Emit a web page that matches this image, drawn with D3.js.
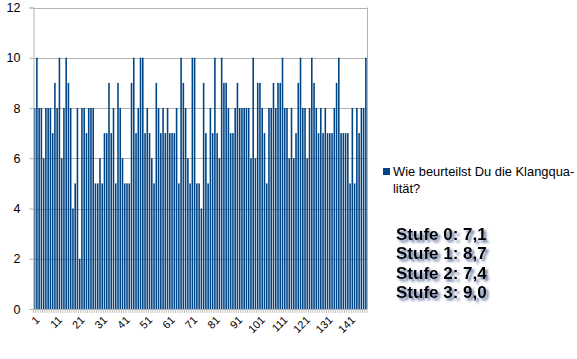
<!DOCTYPE html>
<html>
<head>
<meta charset="utf-8">
<script src="https://cdn.jsdelivr.net/npm/d3@7"></script>
<style>
  html, body { margin: 0; padding: 0; background: #ffffff; }
  svg { display: block; font-family: "Liberation Sans", Arial, sans-serif; }
</style>
</head>
<body>
<svg id="chart" width="577" height="359"></svg>
<script>
// ---- data ----
const values = [
  8, 10, 8, 8, 6, 8, 8, 8, 7, 9,
  8, 10, 6, 8, 10, 9, 8, 4, 5, 8,
  2, 8, 8, 7, 8, 8, 8, 5, 5, 6,
  5, 7, 7, 9, 7, 8, 5, 9, 8, 6,
  5, 5, 5, 9, 10, 7, 8, 10, 10, 7,
  8, 7, 6, 5, 9, 8, 7, 8, 7, 8,
  7, 7, 7, 8, 5, 10, 9, 8, 6, 5,
  10, 10, 5, 5, 4, 9, 7, 5, 8, 7,
  10, 7, 6, 10, 9, 9, 8, 7, 7, 8,
  9, 8, 8, 8, 8, 8, 6, 10, 6, 9,
  9, 8, 7, 5, 8, 8, 9, 8, 9, 9,
  10, 8, 8, 6, 8, 6, 7, 9, 10, 8,
  8, 6, 8, 10, 9, 8, 7, 8, 7, 8,
  7, 7, 7, 8, 9, 10, 7, 7, 7, 7,
  5, 8, 5, 8, 7, 8, 8, 10
];
const categories = values.map((_, i) => String(i + 1));
const xTickLabels = ["1", "11", "21", "31", "41", "51", "61", "71", "81", "91", "101", "111", "121", "131", "141"];
const yTicks = [0, 2, 4, 6, 8, 10, 12];
const seriesName = ["Wie beurteilst Du die Klangqua-", "lität?"];
const stufenLines = ["Stufe 0: 7,1", "Stufe 1: 8,7", "Stufe 2: 7,4", "Stufe 3: 9,0"];

// ---- layout ----
const plotL = 33.5, plotR = 367, plotT = 7.5, plotB = 309;
const barColor = "#004586";
const gridColor = "#b3b3b3";

const svg = d3.select("#chart");

const x = d3.scaleBand().domain(categories).range([plotL, plotR]).paddingInner(0.3).paddingOuter(0.15);
const y = d3.scaleLinear().domain([0, 12]).range([plotB, plotT]);

// shadow filter
const defs = svg.append("defs");
const f = defs.append("filter").attr("id", "shadow").attr("x", "-10%").attr("y", "-30%").attr("width", "130%").attr("height", "170%");
f.append("feDropShadow").attr("dx", 2.5).attr("dy", 2.5).attr("stdDeviation", 1.2)
  .attr("flood-color", "#3f5585").attr("flood-opacity", 0.8);

// grid
svg.append("g").selectAll("line").data(yTicks.filter(d => d > 0)).join("line")
  .attr("x1", plotL).attr("x2", plotR)
  .attr("y1", d => Math.round(y(d)) + 0.5).attr("y2", d => Math.round(y(d)) + 0.5)
  .attr("stroke", gridColor).attr("stroke-width", 1);
// right frame
svg.append("line").attr("x1", plotR + 0.5).attr("x2", plotR + 0.5)
  .attr("y1", y(12)).attr("y2", y(0)).attr("stroke", gridColor);

// bars
svg.append("g").selectAll("rect").data(values).join("rect")
  .attr("x", (d, i) => x(categories[i]))
  .attr("width", x.bandwidth())
  .attr("y", d => y(d))
  .attr("height", d => y(0) - y(d))
  .attr("fill", barColor);

// y axis
const yAxis = d3.axisLeft(y).tickValues(yTicks).tickSize(4).tickPadding(9).tickFormat(d3.format("d"));
const gy = svg.append("g").attr("transform", `translate(${plotL},0)`).call(yAxis);
gy.select(".domain").attr("stroke", gridColor);
gy.selectAll(".tick line").attr("stroke", gridColor);
gy.selectAll(".tick text").attr("fill", "#000").style("font-size", "12.5px")
  .style("font-family", "'Liberation Sans', Arial, sans-serif");

// x axis: ticks at band boundaries
const step = x.step();
const boundaries = categories.map(c => x(c) - x.paddingInner() * step / 2).concat([plotR]);
svg.append("line").attr("x1", plotL).attr("x2", plotR).attr("y1", plotB + 0.5).attr("y2", plotB + 0.5).attr("stroke", gridColor);
svg.append("g").selectAll("line").data(boundaries).join("line")
  .attr("x1", d => d).attr("x2", d => d)
  .attr("y1", plotB).attr("y2", plotB + 4)
  .attr("stroke", gridColor).attr("stroke-width", 0.8);

svg.append("g").selectAll("text").data(xTickLabels).join("text")
  .attr("transform", d => `translate(${x(d) + x.bandwidth() / 2 + 3},${plotB + 9}) rotate(-45)`)
  .attr("text-anchor", "end")
  .attr("dy", "0.35em")
  .style("font-size", "11px")
  .attr("fill", "#000")
  .text(d => d);

// legend
svg.append("rect").attr("x", 383).attr("y", 168).attr("width", 7).attr("height", 7).attr("fill", barColor);
svg.append("g").selectAll("text").data(seriesName).join("text")
  .attr("x", 393).attr("y", (d, i) => 176 + i * 17)
  .style("font-size", "12.9px").attr("fill", "#000")
  .text(d => d);

// Stufe text
svg.append("g").attr("filter", "url(#shadow)").selectAll("text").data(stufenLines).join("text")
  .attr("x", 396).attr("y", (d, i) => 240 + i * 19.3)
  .style("font-size", "17px").style("font-weight", "bold").attr("fill", "#000")
  .text(d => d);
</script>
</body>
</html>
